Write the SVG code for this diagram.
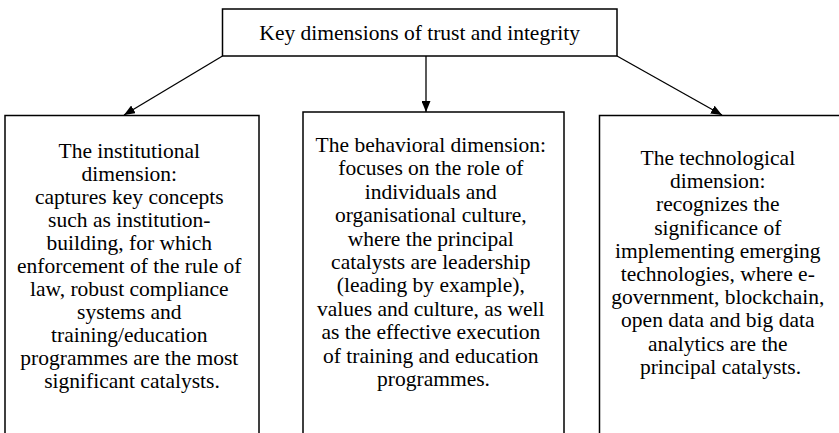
<svg xmlns="http://www.w3.org/2000/svg" width="839" height="433" viewBox="0 0 839 433">
<style>
.box{fill:#fff;stroke:#000;stroke-width:1.5}
.t{font-family:"Liberation Serif","Times New Roman",serif;font-size:21.5px;fill:#000;text-anchor:middle}
.c{stroke:#000;stroke-width:1.3;fill:none}
</style>
<defs>
<marker id="ah" markerWidth="11" markerHeight="9" refX="11" refY="4.5" orient="auto" markerUnits="userSpaceOnUse">
<path d="M0,0 L11,4.5 L0,9 Z" fill="#000"/>
</marker>
</defs>
<rect width="839" height="433" fill="#fff"/>
<g id="top">
<rect class="box" x="222.5" y="9" width="394.5" height="47"/>
<text class="t" x="419.7" y="40">Key dimensions of trust and integrity</text>
</g>
<g id="institutional">
<rect class="box" x="5" y="115.5" width="254" height="330"/>
<text class="t">
<tspan x="132" y="158">The institutional</tspan>
<tspan x="132" dy="23">dimension:</tspan>
<tspan x="132" dy="23">captures key concepts</tspan>
<tspan x="132" dy="23">such as institution-</tspan>
<tspan x="132" dy="23">building, for which</tspan>
<tspan x="132" dy="23">enforcement of the rule of</tspan>
<tspan x="132" dy="23">law, robust compliance</tspan>
<tspan x="132" dy="23">systems and</tspan>
<tspan x="132" dy="23">training/education</tspan>
<tspan x="132" dy="23">programmes are the most</tspan>
<tspan x="132" dy="23">significant catalysts.</tspan>
</text>
</g>
<g id="behavioral">
<rect class="box" x="303" y="112" width="261" height="340"/>
<text class="t">
<tspan x="433.5" y="152">The behavioral dimension:</tspan>
<tspan x="433.5" dy="23.4">focuses on the role of</tspan>
<tspan x="433.5" dy="23.4">individuals and</tspan>
<tspan x="433.5" dy="23.4">organisational culture,</tspan>
<tspan x="433.5" dy="23.4">where the principal</tspan>
<tspan x="433.5" dy="23.4">catalysts are leadership</tspan>
<tspan x="433.5" dy="23.4">(leading by example),</tspan>
<tspan x="433.5" dy="23.4">values and culture, as well</tspan>
<tspan x="433.5" dy="23.4">as the effective execution</tspan>
<tspan x="433.5" dy="23.4">of training and education</tspan>
<tspan x="433.5" dy="23.4">programmes.</tspan>
</text>
</g>
<g id="technological">
<rect class="box" x="599.5" y="115.5" width="250" height="330"/>
<text class="t">
<tspan x="720.5" y="165">The technological</tspan>
<tspan x="720.5" dy="23.2">dimension:</tspan>
<tspan x="720.5" dy="23.2">recognizes the</tspan>
<tspan x="720.5" dy="23.2">significance of</tspan>
<tspan x="720.5" dy="23.2">implementing emerging</tspan>
<tspan x="720.5" dy="23.2">technologies, where e-</tspan>
<tspan x="720.5" dy="23.2">government, blockchain,</tspan>
<tspan x="720.5" dy="23.2">open data and big data</tspan>
<tspan x="720.5" dy="23.2">analytics are the</tspan>
<tspan x="720.5" dy="23.2">principal catalysts.</tspan>
</text>
</g>
<g id="connectors">
<line class="c" x1="222.5" y1="56" x2="124" y2="115" marker-end="url(#ah)"/>
<line class="c" x1="426" y1="56" x2="426" y2="112" marker-end="url(#ah)"/>
<line class="c" x1="617" y1="56" x2="722" y2="115" marker-end="url(#ah)"/>
</g>
</svg>
